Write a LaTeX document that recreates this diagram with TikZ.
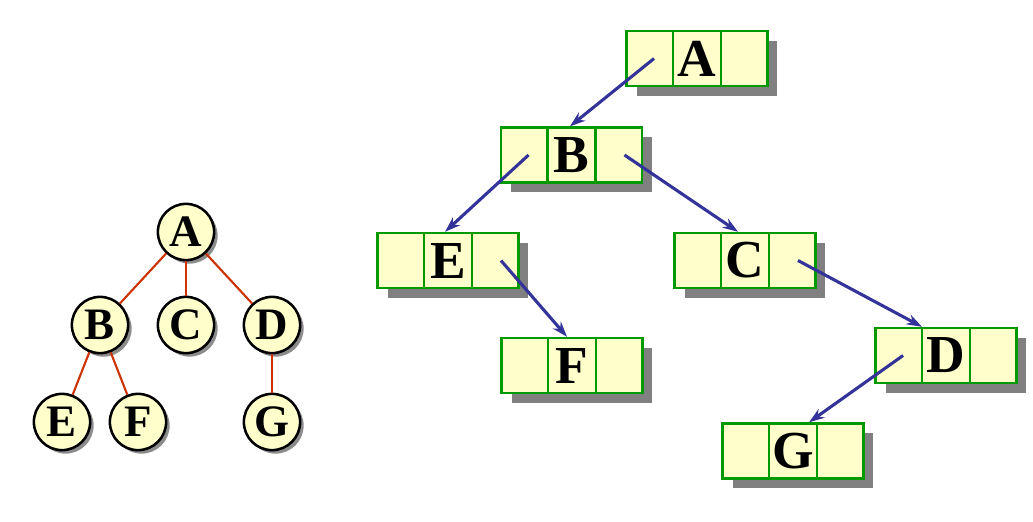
\documentclass[tikz,border=0pt]{standalone}
\usepackage{fontspec}
\setmainfont{Liberation Serif}
\usetikzlibrary{arrows.meta, shadows, calc}
\definecolor{cellfill}{HTML}{FFFFCC}
\definecolor{cellgreen}{HTML}{009900}
\definecolor{ptrblue}{HTML}{333399}
\definecolor{edgered}{HTML}{CC3300}
\tikzset{
  treenode/.style={
    circle, draw=black, line width=1.8pt, fill=cellfill,
    minimum size=40pt, inner sep=0pt,
    font=\fontsize{32}{32}\selectfont\bfseries,
    drop shadow={shadow xshift=2.5pt, shadow yshift=-2.5pt, fill=black!45, opacity=1}
  },
  treeedge/.style={draw=edgered, line width=1.5pt},
  cellbox/.style={
    rectangle, draw=cellgreen, line width=1.8pt, fill=cellfill,
    minimum width=100pt, minimum height=39pt, inner sep=0pt,
    font=\fontsize{38}{38}\selectfont\bfseries,
    drop shadow={shadow xshift=7pt, shadow yshift=-7pt, fill=black!50, opacity=1}
  },
  divider/.style={draw=cellgreen, line width=1.8pt},
  ptr/.style={-{Stealth[length=11pt,width=7.5pt]}, line width=2.2pt, ptrblue},
}

\begin{document}
\begin{tikzpicture}[x=0.025cm, y=-0.025cm]
  \useasboundingbox (0,0) rectangle (1033,521);

  % Tree
  \node[treenode] (tA) at (186,232) {A};
  \node[treenode] (tB) at (100,325) {B};
  \node[treenode] (tC) at (186,325) {C};
  \node[treenode] (tD) at (272,325) {D};
  \node[treenode] (tE) at (62,422) {E};
  \node[treenode] (tF) at (138,422) {F};
  \node[treenode] (tG) at (272,422) {G};

  \draw[treeedge] (tA) -- (tB);
  \draw[treeedge] (tA) -- (tC);
  \draw[treeedge] (tA) -- (tD);
  \draw[treeedge] (tB) -- (tE);
  \draw[treeedge] (tB) -- (tF);
  \draw[treeedge] (tD) -- (tG);

  % Linked cells
  \node[cellbox] (nA) at (697,58.5) {A};
  \node[cellbox] (nB) at (571.5,155) {B};
  \node[cellbox] (nE) at (448,260.5) {E};
  \node[cellbox] (nC) at (745,260.5) {C};
  \node[cellbox] (nF) at (572,365.5) {F};
  \node[cellbox] (nD) at (946,355.5) {D};
  \node[cellbox] (nG) at (793,451) {G};

  % cell dividers
  \foreach \n in {nA,nB,nC,nD,nE,nF,nG} {
    \draw[divider] ($(\n.north west)!1/3!(\n.north east)$) -- ($(\n.south west)!1/3!(\n.south east)$);
    \draw[divider] ($(\n.north west)!2/3!(\n.north east)$) -- ($(\n.south west)!2/3!(\n.south east)$);
  }

  % pointers
  \draw[ptr] ($(nA.west)!0.2!(nA.east)$) -- ($(nB.north)+(-1.5,0)$);
  \draw[ptr] ($(nB.west)!0.2!(nB.east)$) -- ($(nE.north)+(-3,0)$);
  \draw[ptr] ($(nB.west)!0.87!(nB.east)$) -- ($(nC.north)+(-7,0)$);
  \draw[ptr] ($(nE.west)!0.87!(nE.east)$) -- ($(nF.north)+(-5,0)$);
  \draw[ptr] ($(nC.west)!0.87!(nC.east)$) -- ($(nD.north)+(-24,0)$);
  \draw[ptr] ($(nD.west)!0.2!(nD.east)$) -- ($(nG.north)+(16,0)$);
\end{tikzpicture}
\end{document}
